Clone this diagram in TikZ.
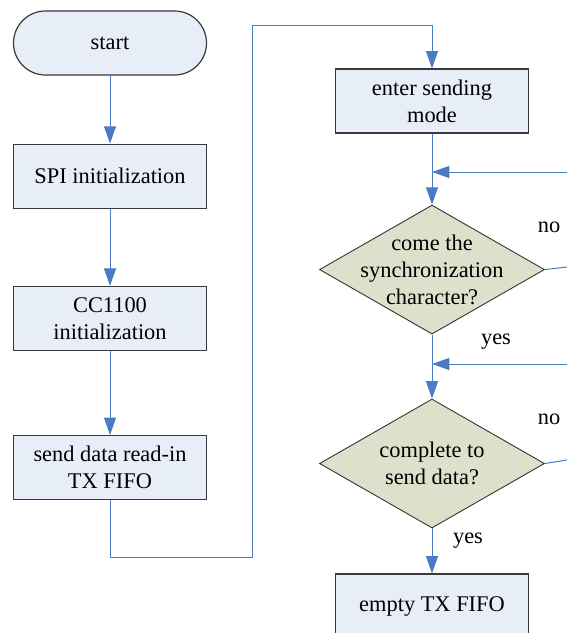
\documentclass[tikz,border=0pt]{standalone}
\usepackage{fontspec}
\setmainfont{Liberation Serif}
\usetikzlibrary{positioning}
\usetikzlibrary{shapes.geometric,arrows.meta}
\usepackage{xcolor}
\definecolor{boxfill}{HTML}{E8EEF7}
\definecolor{decfill}{HTML}{DDE0CB}
\definecolor{flowblue}{HTML}{4A7CC4}
\definecolor{edgegray}{HTML}{3A3A3A}

\begin{document}
\begin{tikzpicture}[x=0.75pt, y=-0.75pt,
		every node/.style={font=\rmfamily\fontsize{16.8}{20.3}\selectfont},
		startnode/.style={rectangle, rounded corners=24pt, draw=edgegray, fill=boxfill, line width=0.9pt, minimum width=144.75pt, minimum height=48pt},
		processnode/.style={rectangle, draw=edgegray, fill=boxfill, line width=0.9pt, minimum width=144.75pt, minimum height=48pt, align=center, inner sep=2pt},
		decisionnode/.style={diamond, draw=edgegray, fill=decfill, line width=0.7pt, minimum width=168.75pt, minimum height=96.75pt, shape aspect=1.744, align=center, inner xsep=0pt, inner ysep=-10pt},
		flow/.style={draw=flowblue, line width=0.75pt, -{Triangle[width=9pt, length=13pt]}},
		plain/.style={draw=flowblue, line width=0.75pt},
		]
		\useasboundingbox (0,0) rectangle (567,633);
		%Nodes
		\node[startnode]    (start)                             at (110,43)  {start};
		\node[processnode]  (spi-init)   [below=51pt of start]               {SPI initialization};
		\node[processnode]  (cc-init)    [below=57.75pt of spi-init]          {CC1100\\initialization};
		\node[processnode]  (send-fifo)  [below=63pt of cc-init]              {send data read-in\\TX FIFO};
		\node[processnode]  (send-mode)                         at (432,101) {enter sending\\mode};
		\node[decisionnode] (sync-char)  [below=53.25pt of send-mode]         {come the\\synchronization\\character?};
		\node[decisionnode] (send-done)  [below=48pt of sync-char]            {complete to\\send data?};
		\node[processnode]  (empty-fifo) [below=33.75pt of send-done]         {empty TX FIFO};
		
		% Labels
		\node[inner sep=0pt] (no-1)  at (549,227) {no};
		\node[inner sep=0pt] (yes-1) at (496,342) {yes};
		\node[inner sep=0pt] (no-2)  at (549,419) {no};
		\node[inner sep=0pt] (yes-2) at (468,541) {yes};
		
		% Loop corners
		\coordinate (loop-low)  at (252,557);
		\coordinate (loop-high) at (252,25);
		\coordinate (back-1)    at (567,172);
		\coordinate (back-2)    at (567,364);
		\coordinate (out-1)     at (567,267);
		\coordinate (out-2)     at (567,460);
		
		%Lines
		\draw[flow] (start.south) -- (spi-init.north);
		\draw[flow] (spi-init.south) -- (cc-init.north);
		\draw[flow] (cc-init.south) -- (send-fifo.north);
		\draw[flow] (send-fifo.south) |- (loop-low) -- (loop-high) -| (send-mode.north);
		\draw[flow] (send-mode.south) -- (sync-char.north);
		\draw[flow] (back-1) -- (back-1 -| send-mode.south);
		\draw[plain] (sync-char.east) -- (out-1);
		\draw[flow] (sync-char.south) -- (send-done.north);
		\draw[flow] (back-2) -- (back-2 -| sync-char.south);
		\draw[plain] (send-done.east) -- (out-2);
		\draw[flow] (send-done.south) -- (empty-fifo.north);
	\end{tikzpicture}
\end{document}
